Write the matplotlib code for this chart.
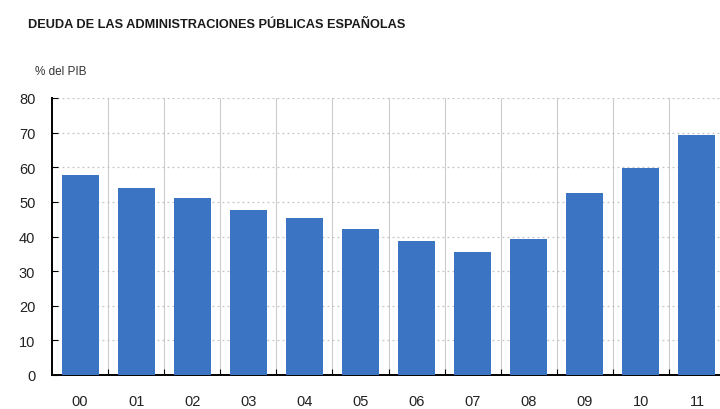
"""Deuda de las AAPP españolas, % del PIB."""

import numpy as np
import matplotlib.pyplot as plt
from matplotlib import font_manager

years = ['00', '01', '02', '03', '04', '05', '06', '07', '08', '09', '10', '11']
deuda = [57.8, 54.1, 51.2, 47.6, 45.3, 42.2, 38.8, 35.4, 39.3, 52.5, 59.9, 69.3]
yticks = [0, 10, 20, 30, 40, 50, 60, 70, 80]

plt.rcParams['font.family'] = ['Liberation Sans', 'DejaVu Sans']

fig = plt.figure(figsize=(7.2, 4.1), dpi=100)
ax = fig.add_axes([52/720, 34/410, 673/720, 277/410])

x = np.arange(len(years))
ax.bar(x, deuda, width=0.66, color='#3a74c2', zorder=3)

ax.set_xlim(-0.5, len(years) - 0.5)
ax.set_ylim(0, 80)

# separadores de categoria y rejilla horizontal punteada
for b in np.arange(0.5, len(years) - 0.5, 1):
    ax.axvline(b, color='#cccccc', lw=0.8, zorder=1)
for v in yticks[1:]:
    ax.axhline(v, color='#c4c4c4', lw=0.9, ls=(0, (1.5, 2.5)), zorder=1)

ax.set_yticks(yticks)
ax.set_xticks(x)
ax.set_xticklabels(years)
ax.set_xticks(np.arange(0.5, len(years) - 0.5, 1), minor=True)
ax.tick_params(axis='y', direction='in', length=4, width=0.8, pad=12,
               labelsize=10.5, labelcolor='#222222')
ax.tick_params(axis='x', which='major', length=0, pad=14,
               labelsize=10.5, labelcolor='#222222')
ax.tick_params(axis='x', which='minor', direction='in', length=4, width=0.8)

for s in ['top', 'right']:
    ax.spines[s].set_visible(False)
ax.spines['left'].set_linewidth(1.4)
ax.spines['bottom'].set_linewidth(1.4)

# titulo en letra estrecha si existe
names = {f.name for f in font_manager.fontManager.ttflist}
tfam = 'DejaVu Sans Condensed' if 'DejaVu Sans Condensed' in names else 'Liberation Sans'
tsize = 10.5 if tfam == 'DejaVu Sans Condensed' else 9.2
fig.text(28/720, 1 - 25/410, 'DEUDA DE LAS ADMINISTRACIONES PÚBLICAS ESPAÑOLAS',
         fontsize=tsize, fontweight='bold', family=tfam, color='#1a1a1a', va='center')
fig.text(35/720, 1 - 72/410, '% del PIB', fontsize=8.5, color='#333333', va='center')

fig.savefig('out.png', dpi=100)
